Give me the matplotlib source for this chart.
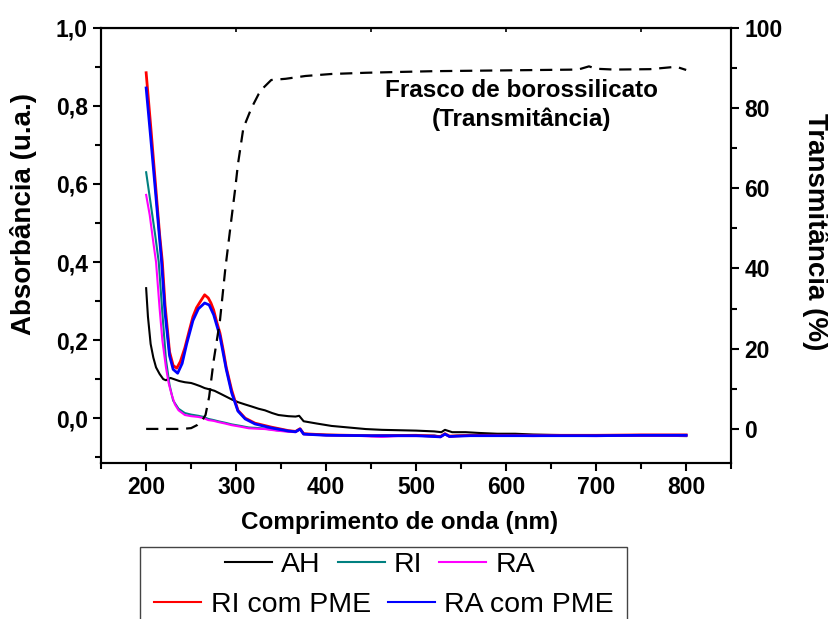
import matplotlib
matplotlib.use("Agg")
import matplotlib.pyplot as plt
from matplotlib.patches import Rectangle
from matplotlib.ticker import MultipleLocator, FuncFormatter

plt.rcParams['font.family'] = ['Liberation Sans', 'DejaVu Sans']

# absorbance spectra
wl_ah = [200, 202, 205, 208, 211, 215, 219, 222, 227, 232, 237, 243, 250, 254, 260, 265,
         270, 276, 283, 289, 295, 302, 310, 317, 325, 332, 340, 347, 358, 366, 370, 375,
         390, 406, 425, 444, 462, 481, 500, 520, 528, 532, 540, 555, 570, 590, 610, 630,
         650, 680, 710, 740, 770, 800]
ah = [0.333, 0.26, 0.19, 0.155, 0.13, 0.113, 0.10, 0.097, 0.103, 0.099, 0.095, 0.092, 0.090,
      0.087, 0.082, 0.077, 0.074, 0.070, 0.062, 0.055, 0.048, 0.041, 0.035, 0.030, 0.024,
      0.020, 0.013, 0.008, 0.005, 0.004, 0.006, -0.008, -0.014, -0.020, -0.024, -0.028, -0.030,
      -0.031, -0.032, -0.034, -0.036, -0.030, -0.036, -0.036, -0.038, -0.040, -0.040, -0.042,
      -0.043, -0.044, -0.045, -0.045, -0.045, -0.046]

wl_ri = [200, 205, 210, 214, 218, 222, 226, 230, 236, 243, 250, 258, 264, 269, 275, 280,
         288, 295, 305, 314, 322, 332, 345, 358, 366, 371, 375, 390, 406, 430, 462, 480,
         500, 520, 527, 532, 537, 545, 570, 600, 630, 660, 700, 740, 770, 800]
ri = [0.63, 0.55, 0.47, 0.40, 0.27, 0.15, 0.085, 0.045, 0.024, 0.013, 0.009, 0.006, 0.003,
      -0.002, -0.005, -0.008, -0.012, -0.016, -0.020, -0.024, -0.025, -0.027, -0.031, -0.034,
      -0.035, -0.028, -0.040, -0.042, -0.043, -0.044, -0.047, -0.045, -0.045, -0.044, -0.048,
      -0.040, -0.047, -0.045, -0.044, -0.044, -0.045, -0.044, -0.045, -0.044, -0.044, -0.044]

wl_ra = [200, 204, 208, 211, 215, 218, 222, 225, 228, 232, 236, 243, 250, 258, 264, 269,
         275, 280, 288, 295, 305, 314, 322, 332, 345, 358, 366, 371, 375, 390, 406, 430,
         462, 480, 500, 520, 527, 532, 537, 545, 570, 600, 630, 660, 700, 740, 770, 800]
ra = [0.572, 0.52, 0.45, 0.40, 0.28, 0.20, 0.13, 0.09, 0.063, 0.035, 0.02, 0.008, 0.005,
      0.003, 0.0, -0.005, -0.007, -0.01, -0.014, -0.018, -0.022, -0.026, -0.027, -0.028,
      -0.032, -0.035, -0.036, -0.029, -0.041, -0.043, -0.044, -0.045, -0.048, -0.046, -0.046,
      -0.045, -0.049, -0.041, -0.048, -0.046, -0.045, -0.045, -0.046, -0.045, -0.046, -0.045,
      -0.045, -0.045]

wl_ri_pme = [200, 205, 210, 215, 218, 221, 226, 230, 234, 238, 243, 248, 252, 256, 260, 265,
             269, 272, 275, 278, 282, 286, 289, 295, 302, 310, 321, 339, 358, 366, 371, 375,
             400, 450, 500, 527, 532, 537, 560, 600, 650, 700, 750, 800]
ri_pme = [0.885, 0.75, 0.61, 0.47, 0.40, 0.29, 0.17, 0.135, 0.128, 0.145, 0.18, 0.225, 0.26,
          0.283, 0.298, 0.316, 0.308, 0.295, 0.277, 0.25, 0.218, 0.17, 0.13, 0.072, 0.02, 0.0,
          -0.013, -0.023, -0.032, -0.034, -0.027, -0.040, -0.043, -0.045, -0.044, -0.047,
          -0.040, -0.046, -0.044, -0.044, -0.044, -0.044, -0.043, -0.043]

wl_ra_pme = [200, 205, 210, 217, 221, 226, 230, 235, 240, 245, 252, 258, 265, 270, 275, 282,
             289, 295, 302, 310, 321, 339, 358, 366, 371, 375, 400, 450, 500, 527, 532, 537,
             560, 600, 650, 700, 750, 800]
ra_pme = [0.846, 0.72, 0.59, 0.405, 0.27, 0.16, 0.125, 0.115, 0.14, 0.19, 0.25, 0.28, 0.295,
          0.29, 0.265, 0.21, 0.125, 0.065, 0.018, -0.002, -0.015, -0.025, -0.033, -0.035,
          -0.028, -0.041, -0.044, -0.045, -0.045, -0.048, -0.041, -0.047, -0.045, -0.045,
          -0.045, -0.045, -0.044, -0.044]

# borosilicate flask transmittance (%)
wl_t = [200, 220, 240, 250, 257, 262, 266, 270, 275, 282, 288, 294, 299, 302, 308, 317, 325,
        330, 339, 355, 377, 406, 444, 480, 520, 560, 600, 640, 680, 692, 700, 720, 760, 789, 800]
trans = [0, 0, 0, 0.2, 1, 2, 3.5, 8, 17, 27, 40, 51, 60, 66, 75, 80, 83.5, 85, 87, 87.3, 88,
         88.5, 88.8, 89, 89.2, 89.3, 89.4, 89.5, 89.6, 90.4, 89.8, 89.6, 89.7, 90.3, 89.5]

fig = plt.figure(figsize=(8.29, 6.19), dpi=100)
ax = fig.add_axes([0.122, 0.252, 0.760, 0.703])

ax.plot(wl_ah, ah, color='black', lw=1.5, label='AH')
ax.plot(wl_ri, ri, color='#008080', lw=1.5, label='RI')
ax.plot(wl_ra, ra, color='#ff00ff', lw=1.5, label='RA')
ax.plot(wl_ri_pme, ri_pme, color='#ff0000', lw=2.0, label='RI com PME')
ax.plot(wl_ra_pme, ra_pme, color='#0000ff', lw=2.0, label='RA com PME')

ax.set_xlim(150, 850)
ax.set_ylim(-0.115, 1.0)
ax.xaxis.set_major_locator(MultipleLocator(100))
ax.xaxis.set_minor_locator(MultipleLocator(50))
ax.yaxis.set_major_locator(MultipleLocator(0.2))
ax.yaxis.set_minor_locator(MultipleLocator(0.1))
ax.yaxis.set_major_formatter(FuncFormatter(lambda v, p: f"{v:.1f}".replace('.', ',').replace('-0,0', '0,0')))

ax2 = ax.twinx()
ax2.plot(wl_t, trans, color='black', lw=1.6, dashes=(5.5, 3.5))
ax2.set_ylim(-8.5, 100)
ax2.yaxis.set_major_locator(MultipleLocator(20))
ax2.yaxis.set_minor_locator(MultipleLocator(10))
ax2.text(617, 80.8, 'Frasco de borossilicato\n(Transmitância)', ha='center', va='center',
         fontsize=17.5, fontweight='bold', linespacing=1.3)

# axis titles
fig.text(400 / 829, 1 - 523 / 619, 'Comprimento de onda (nm)', ha='center', va='center',
         fontsize=17.5, fontweight='bold')
fig.text(24 / 829, 1 - 214 / 619, 'Absorbância (u.a.)', ha='center', va='center',
         rotation=90, fontsize=20, fontweight='bold')
fig.text(816 / 829, 1 - 232 / 619, 'Transmitância (%)', ha='center', va='center',
         rotation=-90, fontsize=20, fontweight='bold')

for a in (ax, ax2):
    for s in a.spines.values():
        s.set_linewidth(1.5)
    a.tick_params(which='major', direction='out', length=6, width=1.5, labelsize=16.5)
    a.tick_params(which='minor', direction='out', length=4, width=1.5)
    for lab in a.get_xticklabels() + a.get_yticklabels():
        lab.set_fontweight('bold')

top = ax.secondary_xaxis('top')
top.set_xticks([300, 450, 600, 750])
top.tick_params(direction='in', length=3, width=1.2, labeltop=False)
top.xaxis.set_minor_locator(plt.NullLocator())

# legend: framed box with two centred rows
h = {l.get_label(): l for l in ax.get_lines()}
kw = dict(frameon=False, fontsize=20.5, handlelength=1.65, handletextpad=0.32,
          columnspacing=0.6, loc='center', borderpad=0)
leg1 = fig.legend([h['AH'], h['RI'], h['RA']], ['AH', 'RI', 'RA'], ncol=3,
                  bbox_to_anchor=(380 / 829, 1 - 565 / 619), **kw)
leg2 = fig.legend([h['RI com PME'], h['RA com PME']], ['RI com PME', 'RA com PME'], ncol=2,
                  bbox_to_anchor=(384 / 829, 1 - 605 / 619), **kw)
for lg in (leg1, leg2):
    for ln in lg.get_lines():
        ln.set_linewidth(1.5)
fig.patches.append(Rectangle((140 / 829, -0.05), 487 / 829, 1 - 547 / 619 + 0.05,
                             transform=fig.transFigure, fill=False, lw=1.0,
                             edgecolor='#444444'))

fig.savefig('out.png', dpi=100)
